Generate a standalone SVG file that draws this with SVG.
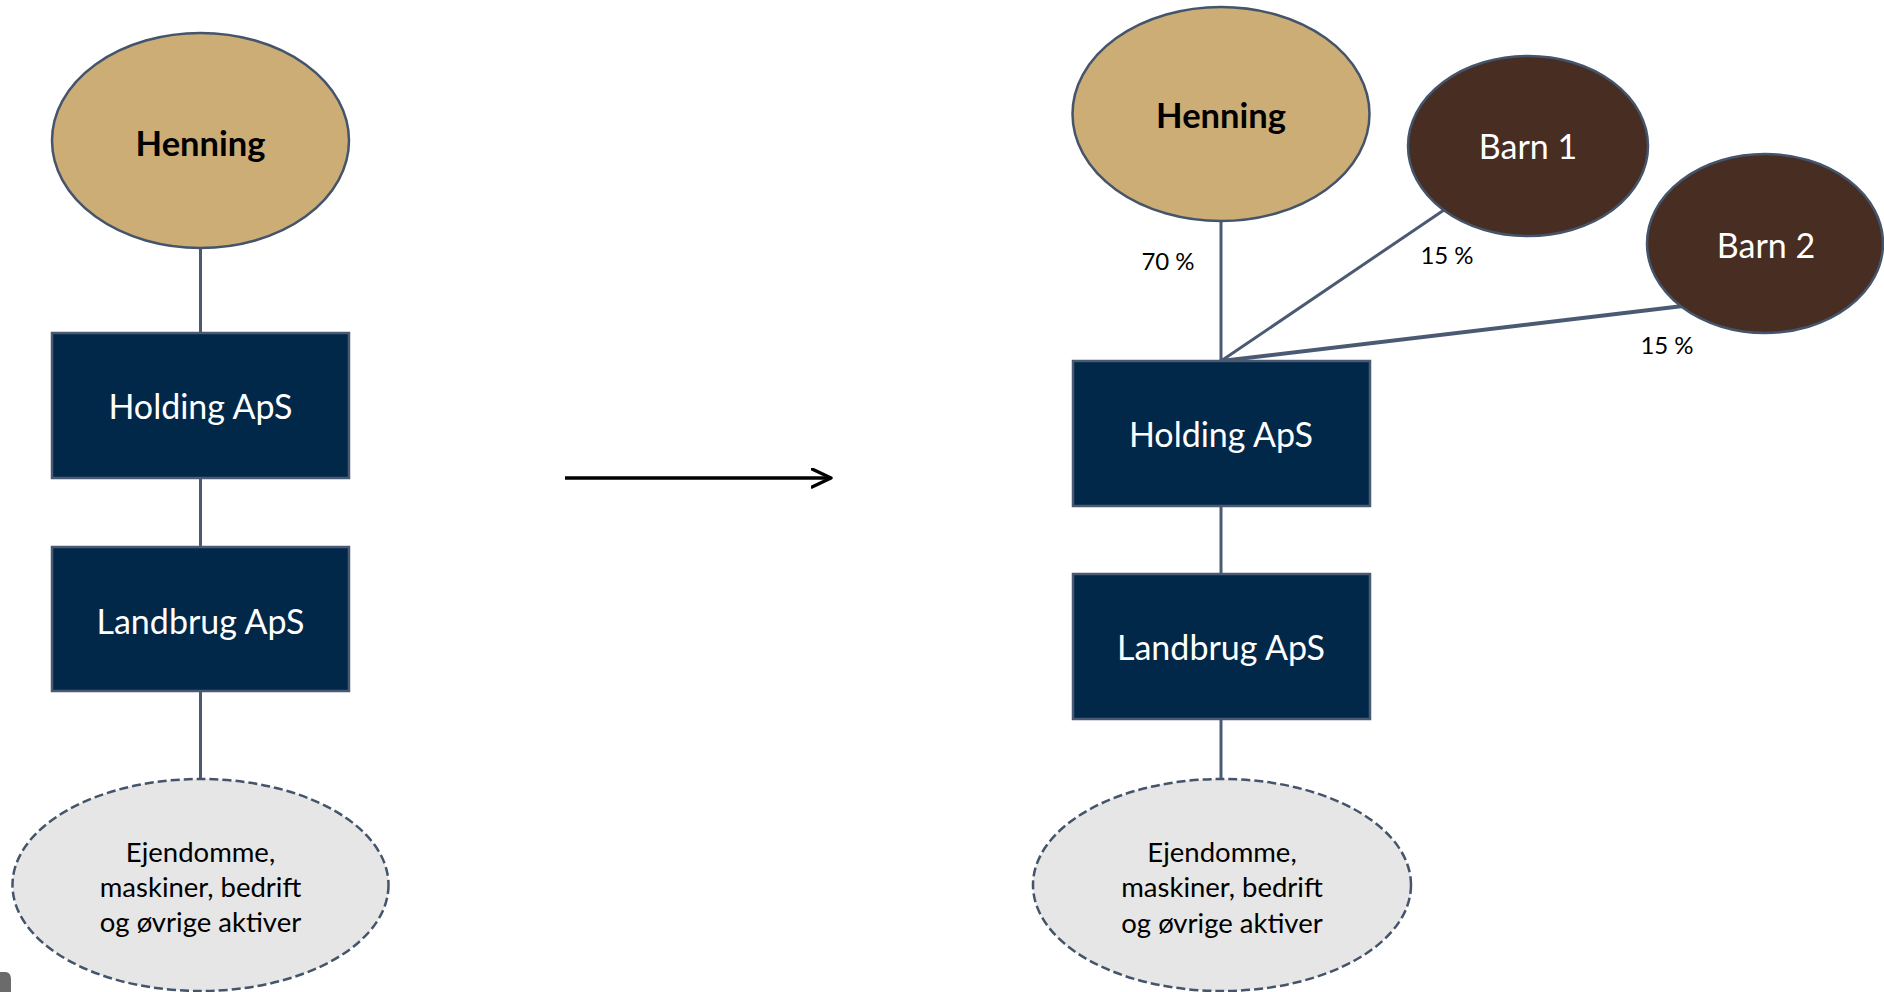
<svg xmlns="http://www.w3.org/2000/svg" width="1884" height="992" viewBox="0 0 1884 992">
<style>
.conn{stroke:#4b5a73;stroke-width:3;fill:none}
.person{fill:#cdad76;stroke:#44546a;stroke-width:2.5}
.child{fill:#472d22;stroke:#44546a;stroke-width:2.5}
.co{fill:#022849;stroke:#4b5a73;stroke-width:2.5}
.asset{fill:#e6e6e6;stroke:#44546a;stroke-width:2.5;stroke-dasharray:9 4}
text{font-family:Lato,"Open Sans","Liberation Sans",sans-serif;text-anchor:middle}
.name{font-size:34.5px;font-weight:bold;fill:#000}
.wt{font-size:34px;fill:#fff}
.at{font-size:27.5px;fill:#000}
.pct{font-size:24px;fill:#000}
</style>
<defs>
<marker id="chev" markerWidth="24" markerHeight="24" refX="20" refY="10" orient="auto" markerUnits="userSpaceOnUse">
<path d="M1,1 L20,10 L1,19" fill="none" stroke="#000" stroke-width="3.4" stroke-linecap="round" stroke-linejoin="round"/>
</marker>
</defs>
<rect width="1884" height="992" fill="#fff"/>
<g id="connectors">
<line class="conn" x1="200.5" y1="248" x2="200.5" y2="333"/>
<line class="conn" x1="200.5" y1="478" x2="200.5" y2="547"/>
<line class="conn" x1="200.5" y1="691" x2="200.5" y2="779"/>
<line class="conn" x1="1221" y1="221" x2="1221" y2="361"/>
<line class="conn" x1="1221" y1="361" x2="1444" y2="210"/>
<line class="conn" x1="1221" y1="361" x2="1683" y2="306" style="stroke-width:4"/>
<line class="conn" x1="1221" y1="506" x2="1221" y2="574"/>
<line class="conn" x1="1221" y1="719" x2="1221" y2="779"/>
<line x1="565" y1="478" x2="831" y2="478" stroke="#000" stroke-width="3.4" marker-end="url(#chev)"/>
</g>
<g id="labels">
<text class="pct" x="1168" y="270">70 %</text>
<text class="pct" x="1447" y="264">15 %</text>
<text class="pct" x="1667" y="354">15 %</text>
</g>
<g id="henning-left">
<ellipse class="person" cx="200.5" cy="140.5" rx="148.5" ry="107.5"/>
<text class="name" x="200.5" y="156">Henning</text>
</g>
<g id="holding-left">
<rect class="co" x="52" y="333" width="297" height="145"/>
<text class="wt" x="200.5" y="419">Holding ApS</text>
</g>
<g id="landbrug-left">
<rect class="co" x="52" y="547" width="297" height="144"/>
<text class="wt" x="200.5" y="634">Landbrug ApS</text>
</g>
<g id="assets-left">
<ellipse class="asset" cx="200.5" cy="885" rx="188" ry="106"/>
<text class="at" x="200.5" y="862">Ejendomme,</text>
<text class="at" x="200.5" y="897">maskiner, bedrift</text>
<text class="at" x="200.5" y="932">og øvrige aktiver</text>
</g>
<g id="henning-right">
<ellipse class="person" cx="1221" cy="114" rx="148.5" ry="107"/>
<text class="name" x="1221" y="128">Henning</text>
</g>
<g id="barn1">
<ellipse class="child" cx="1528" cy="146" rx="120" ry="90"/>
<text class="wt" x="1528" y="159">Barn 1</text>
</g>
<g id="barn2">
<ellipse class="child" cx="1765" cy="243.5" rx="118" ry="89.5"/>
<text class="wt" x="1766" y="258">Barn 2</text>
</g>
<g id="holding-right">
<rect class="co" x="1073" y="361" width="297" height="145"/>
<text class="wt" x="1221" y="447">Holding ApS</text>
</g>
<g id="landbrug-right">
<rect class="co" x="1073" y="574" width="297" height="145"/>
<text class="wt" x="1221" y="660">Landbrug ApS</text>
</g>
<g id="assets-right">
<ellipse class="asset" cx="1222" cy="885" rx="189" ry="106"/>
<text class="at" x="1222" y="862">Ejendomme,</text>
<text class="at" x="1222" y="897">maskiner, bedrift</text>
<text class="at" x="1222" y="933">og øvrige aktiver</text>
</g>
<path d="M0,972 L6,972 Q11,973 11,979 L11,992 L0,992 Z" fill="#6b6b6b"/>
</svg>
